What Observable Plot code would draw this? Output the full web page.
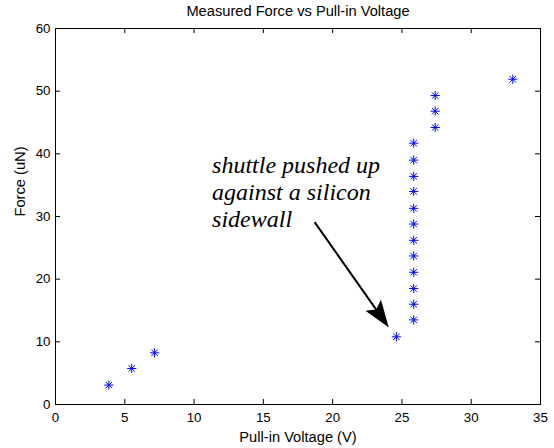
<!DOCTYPE html>
<html><head><meta charset="utf-8">
<script src="https://cdn.jsdelivr.net/npm/d3@7"></script>
<script src="https://cdn.jsdelivr.net/npm/@observablehq/plot@0.6"></script>
<style>body{margin:0;background:#fff}</style>
</head><body><div id="chart"></div>
<script>
const title = "Measured Force vs Pull-in Voltage";
const xTitle = "Pull-in Voltage (V)";
const yTitle = "Force (uN)";
const voltage = [3.85, 5.5, 7.15, 24.6,
  25.85, 25.85, 25.85, 25.85, 25.85, 25.85, 25.85, 25.85, 25.85, 25.85, 25.85, 25.85,
  27.4, 27.4, 27.4, 33.0];
const force = [3.1, 5.75, 8.25, 10.8,
  13.5, 16.0, 18.5, 21.1, 23.7, 26.2, 28.8, 31.3, 34.0, 36.4, 39.0, 41.7,
  44.2, 46.8, 49.3, 51.9];
const xTicks = [0, 5, 10, 15, 20, 25, 30, 35];
const yTicks = [0, 10, 20, 30, 40, 50, 60];
const noteText = ["shuttle pushed up\nagainst a silicon\nsidewall"];
const notePos = [11.3, 40];
const arrowFrom = [18.7, 29.1];
const arrowTo = [24.05, 12.3];

const W = 554, H = 448, mL = 55, mR = 14, mT = 28, mB = 44;
const innerW = W - mL - mR, innerH = H - mT - mB;
const kx = innerW / (xTicks[xTicks.length - 1] - xTicks[0]);
const ky = innerH / (yTicks[yTicks.length - 1] - yTicks[0]);
const dxp = (arrowTo[0] - arrowFrom[0]) * kx;
const dyp = -(arrowTo[1] - arrowFrom[1]) * ky;
const lenPx = Math.hypot(dxp, dyp);
const angle = Math.atan2(dxp, -dyp) * 180 / Math.PI;
const shorten = 16 / lenPx;
const shaft = [{x1: arrowFrom[0], y1: arrowFrom[1],
  x2: arrowTo[0] + (arrowFrom[0] - arrowTo[0]) * shorten,
  y2: arrowTo[1] + (arrowFrom[1] - arrowTo[1]) * shorten}];

const points = voltage.map((v, i) => ({v, f: force[i]}));

const asterisk = {draw(ctx) {
  const a = 4.6, b = 3.2;
  ctx.moveTo(-a, 0); ctx.lineTo(a, 0);
  ctx.moveTo(0, -a); ctx.lineTo(0, a);
  ctx.moveTo(-b, -b); ctx.lineTo(b, b);
  ctx.moveTo(-b, b); ctx.lineTo(b, -b);
}};
const head = {draw(ctx) {
  ctx.moveTo(0, 0); ctx.lineTo(9.5, 27); ctx.lineTo(0, 22); ctx.lineTo(-9.5, 27); ctx.closePath();
}};

const plot = Plot.plot({
  width: W, height: H,
  marginLeft: mL, marginRight: mR, marginTop: mT, marginBottom: mB,
  style: {fontFamily: "Liberation Sans, Arial, sans-serif", fontSize: "13.3px", background: "#fff", color: "#000"},
  x: {domain: [xTicks[0], xTicks[xTicks.length - 1]]},
  y: {domain: [yTicks[0], yTicks[yTicks.length - 1]]},
  marks: [
    Plot.axisX({ticks: xTicks, tickSize: 0, tickPadding: 8, label: null, fontSize: 13.3}),
    Plot.axisY({ticks: yTicks, tickSize: 0, tickPadding: 5, label: null, fontSize: 13.3}),
    Plot.tickX(xTicks, {x: d => d, insetTop: innerH - 5, stroke: "black"}),
    Plot.tickX(xTicks, {x: d => d, insetBottom: innerH - 5, stroke: "black"}),
    Plot.tickY(yTicks, {y: d => d, insetRight: innerW - 5, stroke: "black"}),
    Plot.tickY(yTicks, {y: d => d, insetLeft: innerW - 5, stroke: "black"}),
    Plot.frame({stroke: "black"}),
    Plot.dot(points, {x: "v", y: "f", symbol: asterisk, r: 4, stroke: "#0000ff", fill: "none", strokeWidth: 1}),
    Plot.text(noteText, {x: () => notePos[0], y: () => notePos[1], textAnchor: "start", lineAnchor: "top",
      fontFamily: "Liberation Serif, Times New Roman, serif", fontStyle: "italic", fontSize: 24, lineHeight: 1.12, fill: "black"}),
    Plot.link(shaft, {x1: "x1", y1: "y1", x2: "x2", y2: "y2", stroke: "black", strokeWidth: 2}),
    Plot.dot([arrowTo], {x: d => d[0], y: d => d[1], symbol: head, r: 5, fill: "black", stroke: "none", rotate: angle}),
    Plot.text([title], {frameAnchor: "top", dy: -17, lineAnchor: "middle", fontSize: 14.67}),
    Plot.text([xTitle], {frameAnchor: "bottom", dy: 33, lineAnchor: "middle", fontSize: 14.67}),
    Plot.text([yTitle], {frameAnchor: "left", dx: -35, rotate: -90, fontSize: 14.67})
  ]
});
document.getElementById("chart").appendChild(plot);
</script>
</body></html>
